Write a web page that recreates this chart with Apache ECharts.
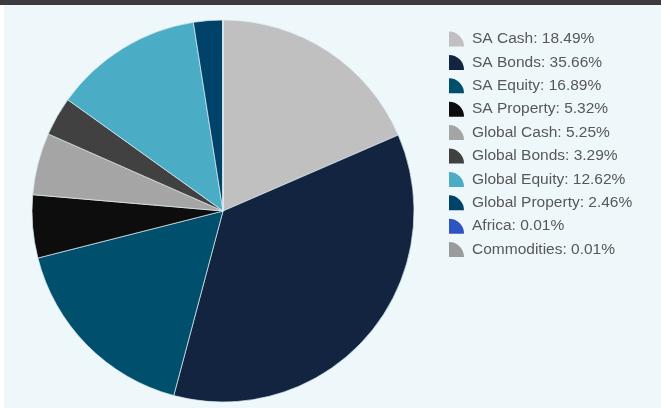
<!DOCTYPE html>
<html>
<head>
<meta charset="utf-8">
<script src="https://cdn.jsdelivr.net/npm/echarts@6/dist/echarts.min.js"></script>
<style>
  html, body { margin: 0; padding: 0; background: #ffffff; width: 661px; height: 408px; overflow: hidden; }
  #bar { position: absolute; left: 0; top: 0; width: 661px; height: 5px; background: #3c3c3e; }
  #chart { position: absolute; left: 4px; top: 5px; width: 657px; height: 403px; background: #eef7fa; }
</style>
</head>
<body>
<div id="bar"></div>
<div id="chart"></div>
<script>
const categories = ['SA Cash', 'SA Bonds', 'SA Equity', 'SA Property', 'Global Cash', 'Global Bonds', 'Global Equity', 'Global Property', 'Africa', 'Commodities'];
const values = [18.49, 35.66, 16.89, 5.32, 5.25, 3.29, 12.62, 2.46, 0.01, 0.01];
const colors = ['#c0c0c0', '#12243f', '#004f6d', '#0d0d0d', '#a5a5a5', '#414141', '#4bacc6', '#00436a', '#2e53c2', '#9b9b9b'];

const chart = echarts.init(document.getElementById('chart'), null, { renderer: 'canvas' });
const seriesData = categories.map((c, i) => ({ name: c, value: values[i], itemStyle: { color: colors[i] } }));
chart.setOption({
  animation: false,
  backgroundColor: 'transparent',
  legend: {
    orient: 'vertical',
    left: 445,
    top: 26,
    padding: 0,
    itemWidth: 15,
    itemHeight: 15,
    itemGap: 7.4,
    icon: 'path://M0,0 A10,10 0 0 1 10,10 L0,10 Z',
    itemStyle: { borderWidth: 0 },
    textStyle: { fontFamily: 'Liberation Sans, Arial, sans-serif', fontSize: 15.5, color: '#585858', padding: [0, 0, 0, 3] },
    formatter: function (name) {
      const i = categories.indexOf(name);
      return name + ': ' + values[i].toFixed(2) + '%';
    },
    data: categories
  },
  series: [{
    type: 'pie',
    center: [219, 206],
    radius: 191,
    startAngle: 90,
    clockwise: true,
    avoidLabelOverlap: false,
    label: { show: false },
    labelLine: { show: false },
    itemStyle: { borderColor: '#dcecf2', borderWidth: 0.7 },
    emphasis: { disabled: true },
    data: seriesData
  }]
});
</script>
</body>
</html>
